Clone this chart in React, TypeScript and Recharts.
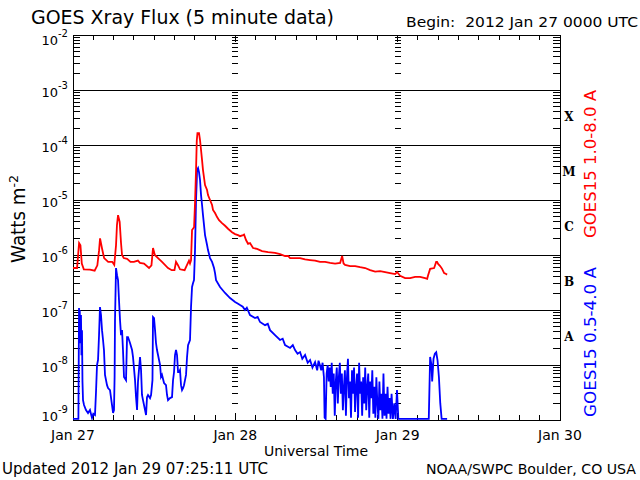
import React from "react";
import {
  LineChart,
  Line,
  XAxis,
  YAxis,
  CartesianGrid,
  ReferenceLine,
  ReferenceArea,
} from "recharts";

// hours since 2012 Jan 27 00:00 UTC
const longHours = [
  0, 0.6, 0.9, 1.1, 1.3, 1.6, 2.5, 3.2, 3.6, 3.85, 4.0, 4.3, 4.6, 5.2, 5.8, 6.1,
  6.36, 6.5, 6.66, 6.9, 7.1, 7.25, 7.5, 8.0, 8.5, 9.0, 9.6, 9.9, 10.5, 11.24,
  11.6, 11.83, 12.1, 12.57, 13.16, 14.05, 14.6, 15.0, 15.23, 15.5, 15.82, 16.5,
  16.86, 17.15, 17.3, 17.45, 17.6, 17.9, 18.04, 18.19, 18.3, 18.4, 18.63, 18.78,
  18.93, 19.08, 19.22, 19.52, 19.82, 19.96, 20.26, 20.56, 20.7, 21.0, 21.3,
  21.59, 22.03, 22.48, 22.92, 23.51, 23.96, 24.4, 24.7, 25.14, 25.29, 25.58,
  25.88, 26.17, 26.62, 27.21, 27.95, 28.84, 29.87, 30.61, 31.35, 31.8, 32.09,
  33.57, 34.31, 35.05, 35.79, 36.53, 37.27, 38.01, 38.75, 39.5, 39.79, 40.0,
  40.22, 40.97, 41.71, 42.45, 43.19, 43.93, 44.67, 45.41, 46.15, 46.88, 47.62,
  47.92, 48.36, 49.1, 49.84, 50.58, 51.32, 52.06, 52.36, 52.5, 52.8, 53.39,
  53.54, 53.69, 53.83, 53.98, 54.28, 54.57, 54.87, 55.17, 55.31,
];
const longFlux = [
  5.8e-7, 5.8e-7, 1.65e-6, 1.5e-6, 7e-7, 5.5e-7, 5.4e-7, 5.2e-7, 6.5e-7, 1.2e-6,
  2.0e-6, 1.3e-6, 8.8e-7, 7.5e-7, 7.5e-7, 6.6e-7, 1.5e-6, 3.5e-6, 5.3e-6,
  4.0e-6, 1.65e-6, 1.0e-6, 8.8e-7, 8.5e-7, 7.5e-7, 7.5e-7, 7.9e-7, 7.2e-7,
  7.0e-7, 5.8e-7, 6.5e-7, 1.34e-6, 1.0e-6, 8.8e-7, 7.5e-7, 5.8e-7, 5.3e-7,
  5.3e-7, 7.5e-7, 6.6e-7, 5.5e-7, 5.3e-7, 6.6e-7, 7.9e-7, 7.0e-7, 8e-7,
  2.85e-6, 3.2e-6, 8.8e-6, 3.5e-5, 1.2e-4, 1.65e-4, 1.65e-4, 1.23e-4, 8.1e-5,
  5.3e-5, 3.5e-5, 1.87e-5, 1.52e-5, 1.23e-5, 1.0e-5, 8.1e-6, 6.6e-6, 5.8e-6,
  4.9e-6, 4.3e-6, 3.8e-6, 3.4e-6, 3.0e-6, 2.6e-6, 2.4e-6, 2.3e-6, 2.2e-6,
  2.3e-6, 2.35e-6, 1.87e-6, 1.6e-6, 1.65e-6, 1.34e-6, 1.29e-6, 1.18e-6,
  1.13e-6, 1.09e-6, 1.04e-6, 9.6e-7, 9.6e-7, 8.8e-7, 8.8e-7, 8.3e-7, 8.1e-7,
  7.9e-7, 7.5e-7, 7.5e-7, 7.2e-7, 7.0e-7, 7.2e-7, 9.6e-7, 7.0e-7, 6.6e-7,
  6.3e-7, 6.3e-7, 6.0e-7, 5.8e-7, 5.3e-7, 5.0e-7, 5.1e-7, 4.9e-7, 4.7e-7,
  4.5e-7, 4.9e-7, 4.2e-7, 3.8e-7, 3.8e-7, 4.0e-7, 4.0e-7, 3.8e-7, 3.7e-7,
  4.3e-7, 5.6e-7, 5.8e-7, 6.6e-7, 7.5e-7, 7.5e-7, 6.9e-7, 6.3e-7, 5.6e-7,
  4.7e-7, 4.5e-7, 4.4e-7,
];

const shortHours = [
  0, 0.6, 0.8, 0.89, 0.95, 1.0, 1.1, 1.18, 1.25, 1.33, 1.4, 1.48, 1.63, 1.92,
  2.22, 2.51, 2.81, 3.0, 3.25, 3.4, 3.55, 3.7, 3.85, 3.99, 4.14, 4.29, 4.44,
  4.58, 4.73, 5.03, 5.18, 5.47, 5.77, 5.92, 6.06, 6.15, 6.21, 6.36, 6.51, 6.66,
  6.8, 6.95, 7.1, 7.25, 7.39, 7.54, 7.84, 7.99, 8.13, 8.28, 8.43, 8.73, 8.87,
  9.17, 9.32, 9.47, 9.61, 9.91, 10.06, 10.2, 10.35, 10.65, 10.8, 10.94, 11.09,
  11.39, 11.54, 11.68, 11.75, 11.83, 11.98, 12.13, 12.27, 12.42, 12.57, 12.87,
  13.01, 13.16, 13.46, 13.75, 13.9, 14.05, 14.34, 14.64, 14.79, 14.94, 15.08,
  15.23, 15.38, 15.53, 15.68, 15.82, 15.97, 16.12, 16.27, 16.41, 16.56, 16.71,
  16.86, 17.01, 17.3, 17.45, 17.6, 17.75, 17.89, 18.04, 18.19, 18.3, 18.34,
  18.49, 18.63, 18.78, 18.93, 19.08, 19.22, 19.37, 19.52, 19.82, 19.96, 20.26,
  20.56, 20.85, 21.0, 21.15, 21.74, 22.48, 23.22, 23.96, 24.4, 24.7, 25.1,
  25.43, 25.7, 26.17, 26.91, 27.3, 27.65, 28.39, 28.8, 29.13, 29.87, 30.61,
  31.0, 31.35, 32.09, 32.5, 32.83, 33.2, 33.57, 33.9, 34.31, 34.7, 35.05, 35.4,
  35.79, 36.1, 36.3, 36.5, 36.7, 36.9, 37.1, 37.2, 37.35, 37.5, 37.65, 37.8,
  37.95, 38.1, 38.25, 38.4, 38.55, 38.7, 38.85, 39.0, 39.15, 39.3, 39.45, 39.6,
  39.75, 39.9, 40.05, 40.2, 40.35, 40.5, 40.65, 40.8, 40.95, 41.1, 41.25, 41.4,
  41.55, 41.7, 41.85, 42.0, 42.15, 42.3, 42.45, 42.6, 42.75, 42.9, 43.05, 43.2,
  43.35, 43.5, 43.65, 43.8, 43.95, 44.1, 44.25, 44.4, 44.55, 44.7, 44.85, 45.0,
  45.15, 45.3, 45.45, 45.6, 45.75, 45.9, 46.05, 46.2, 46.35, 46.5, 46.65, 46.8,
  46.95, 47.1, 47.3, 47.5, 47.7, 47.9, 48.1, 52.6, 52.8, 53.0, 53.1, 53.3, 53.5,
  53.7, 53.9, 54.1, 54.3, 54.5, 55.31,
];
const shortFlux = [
  1.05e-9, 1.05e-9, 1.05e-9, 1.09e-7, 4e-8, 1.0e-7, 2.5e-8, 8.1e-8, 1.5e-8,
  4.3e-8, 5e-9, 2.3e-9, 1.87e-9, 1.52e-9, 1.34e-9, 1.52e-9, 1.09e-9, 1.3e-9,
  1.23e-9, 3.2e-9, 1.0e-8, 1.23e-8, 3.5e-8, 1.13e-7, 8.1e-8, 4.3e-8, 2.85e-8,
  1.87e-8, 6.6e-9, 4.3e-9, 3.8e-9, 3.5e-9, 1.87e-9, 1.34e-9, 1.52e-9, 6.05e-9,
  6.6e-8, 5.8e-7, 4.3e-7, 3.5e-7, 1.52e-7, 6.6e-8, 3.5e-8, 4.3e-8, 1.87e-8,
  6.05e-9, 5.3e-9, 3.2e-8, 3.2e-8, 2.85e-8, 2.51e-8, 1.87e-8, 1.4e-8, 5.3e-9,
  2.6e-9, 1.52e-9, 5e-9, 1.4e-8, 8.1e-9, 2.85e-9, 2.3e-9, 1.52e-9, 1.23e-9,
  2.6e-9, 2.85e-9, 2.5e-9, 2.85e-9, 4.3e-9, 5.3e-9, 7.45e-8, 7.14e-8, 4.3e-8,
  2.51e-8, 1.87e-8, 1.52e-8, 1.0e-8, 6.05e-9, 6.6e-9, 4.7e-9, 4.3e-9, 2.85e-9,
  2.3e-9, 2.5e-9, 2.6e-9, 5.3e-9, 7.45e-9, 1.52e-8, 1.87e-8, 1.52e-8, 7.45e-9,
  7.45e-9, 8.1e-9, 4.3e-9, 3.5e-9, 3.8e-9, 4.3e-9, 5.3e-9, 6.6e-9, 1.4e-8,
  2.3e-8, 2.85e-8, 1.13e-7, 2.62e-7, 3.09e-7, 3.5e-7, 1.23e-6, 1.0e-5, 2.31e-5,
  3.5e-5, 3.8e-5, 3.2e-5, 2.31e-5, 1.23e-5, 8.1e-6, 5.3e-6, 3.5e-6, 2.3e-6,
  1.52e-6, 1.23e-6, 8.8e-7, 7.5e-7, 5.8e-7, 4.7e-7, 3.5e-7, 2.62e-7, 2.04e-7,
  1.65e-7, 1.4e-7, 1.3e-7, 1.23e-7, 1.15e-7, 1.0e-7, 1.1e-7, 8.1e-8, 7.14e-8,
  7.5e-8, 6.05e-8, 5.3e-8, 5.6e-8, 4.3e-8, 3.5e-8, 2.85e-8, 3.0e-8, 2.3e-8,
  2.04e-8, 2.3e-8, 1.87e-8, 1.6e-8, 1.72e-8, 1.3e-8, 1.52e-8, 1.1e-8, 1.23e-8,
  9e-9, 1.13e-8, 8e-9, 1.2e-8, 1.0e-8, 8e-9, 1.1e-8, 6e-9, 1.1e-9, 1.05e-9,
  7e-9, 1.0e-8, 5e-9, 9e-9, 4e-9, 1.1e-8, 3e-9, 7e-9, 1.2e-9, 5e-9, 9e-9, 2e-9,
  6e-9, 1.1e-8, 3e-9, 7e-9, 1.5e-9, 4e-9, 8e-9, 1.2e-9, 6e-9, 1.3e-8, 2.5e-9,
  5e-9, 1.1e-9, 8e-9, 3e-9, 9e-9, 1.4e-9, 4e-9, 7e-9, 1.1e-9, 1.1e-8, 3e-9,
  5e-9, 1.2e-9, 6e-9, 2e-9, 9e-9, 1.5e-9, 4e-9, 7e-9, 1.1e-9, 5e-9, 2.5e-9,
  8e-9, 1.3e-9, 4e-9, 1.1e-9, 6e-9, 2e-9, 1.05e-9, 5e-9, 1.5e-9, 3e-9, 1.05e-9,
  7e-9, 1.2e-9, 3e-9, 1.05e-9, 4e-9, 1.3e-9, 2.5e-9, 1.05e-9, 3e-9, 1.05e-9,
  2e-9, 1.05e-9, 3.5e-9, 1.05e-9, 1.05e-9, 1.4e-8, 1.0e-8, 5e-9, 1.3e-8, 1.6e-8,
  1.7e-8, 1.2e-8, 6e-9, 2e-9, 1.05e-9, 1.05e-9,
];

const dayTicks = [0, 24, 48, 72];
const dayLabels = ["Jan 27", "Jan 28", "Jan 29", "Jan 30"];
const hourTicks = [3, 6, 9, 12, 15, 18, 21, 27, 30, 33, 36, 39, 42, 45, 51, 54, 57, 60, 63, 66, 69];
const decadeTicks = [1e-9, 1e-8, 1e-7, 1e-6, 1e-5, 1e-4, 1e-3, 1e-2];
const decadeExps = [-9, -8, -7, -6, -5, -4, -3, -2];
const minorSteps = [2, 3, 4, 5, 6, 7, 8, 9];
const classTicks = [3.16e-8, 3.16e-7, 3.16e-6, 3.16e-5, 3.16e-4];
const classLabels = ["A", "B", "C", "M", "X"];

const longData = longHours.map((h, i) => ({ h, f: longFlux[i] }));
const shortData = shortHours.map((h, i) => ({ h, f: shortFlux[i] }));
const minorTicks = decadeTicks.slice(0, -1).flatMap((d) => minorSteps.map((m) => m * d));

const FONT = "'DejaVu Sans', sans-serif";
const T0 = dayTicks[0];
const T1 = dayTicks[dayTicks.length - 1];

function MinorTickShape(props: any) {
  const { x1, x2, y1 } = props;
  const w = x2 - x1;
  const mids = dayTicks.slice(1, -1).map((d) => x1 + (w * (d - T0)) / (T1 - T0));
  return (
    <g stroke="#000" strokeWidth={1} shapeRendering="crispEdges">
      <line x1={x1} x2={x1 + 7} y1={y1} y2={y1} />
      <line x1={x2 - 7} x2={x2} y1={y1} y2={y1} />
      {mids.map((m, i) => (
        <line key={i} x1={m - 3} x2={m + 3} y1={y1} y2={y1} />
      ))}
    </g>
  );
}

function HourTickShape(len: number) {
  return (props: any) => {
    const { x1, y1, y2 } = props;
    const top = Math.min(y1, y2);
    const bot = Math.max(y1, y2);
    return (
      <g stroke="#000" strokeWidth={1} shapeRendering="crispEdges">
        <line x1={x1} x2={x1} y1={top} y2={top + len} />
        <line x1={x1} x2={x1} y1={bot - len} y2={bot} />
      </g>
    );
  };
}

function DecadeTick(props: any) {
  const { x, y, payload } = props;
  const i = decadeTicks.findIndex((d) => Math.abs(Math.log10(d) - Math.log10(payload.value)) < 0.01);
  // the end labels are nudged inside the frame, as in the original plot
  const shift = i === decadeTicks.length - 1 ? 10 : i === 0 ? 1 : 7;
  return (
    <text x={x} y={y + shift} textAnchor="end" fontFamily={FONT} fontSize={13} fill="#000">
      10
      <tspan dy={-8} fontSize={10}>
        {decadeExps[i]}
      </tspan>
    </text>
  );
}

function ClassTick(props: any) {
  const { x, y, payload } = props;
  const i = classTicks.findIndex((d) => Math.abs(Math.log10(d) - Math.log10(payload.value)) < 0.01);
  return (
    <text
      x={x}
      y={y + 3}
      textAnchor="middle"
      fontFamily="'DejaVu Serif', serif"
      fontWeight="bold"
      fontSize={12}
      fill="#000"
    >
      {classLabels[i]}
    </text>
  );
}

function DayTick(props: any) {
  const { x, y, payload } = props;
  const i = dayTicks.indexOf(payload.value);
  return (
    <text x={x} y={y + 20} textAnchor="middle" fontFamily={FONT} fontSize={14} fill="#000">
      {dayLabels[i]}
    </text>
  );
}

export default function App() {
  return (
    <div style={{ position: "absolute", left: 0, top: 0, width: 640, height: 480, background: "#fff" }}>
      <LineChart width={640} height={480} margin={{ top: 35, right: 0, bottom: 0, left: 0 }}>
        <CartesianGrid vertical={false} stroke="#000" strokeWidth={1} shapeRendering="crispEdges" />
        <XAxis
          type="number"
          dataKey="h"
          domain={[T0, T1]}
          ticks={dayTicks}
          height={60}
          axisLine={false}
          tickLine={false}
          tickSize={0}
          tickMargin={0}
          tick={<DayTick />}
          allowDataOverflow
        />
        <YAxis
          scale="log"
          domain={[1e-9, 1e-2]}
          ticks={decadeTicks}
          width={73}
          axisLine={false}
          tickLine={false}
          tickSize={0}
          tickMargin={5}
          tick={<DecadeTick />}
          allowDataOverflow
        />
        <YAxis
          yAxisId="cls"
          orientation="right"
          scale="log"
          domain={[1e-9, 1e-2]}
          ticks={classTicks}
          width={80}
          axisLine={false}
          tickLine={false}
          tickSize={0}
          tickMargin={9}
          tick={<ClassTick />}
          allowDataOverflow
        />
        {minorTicks.map((v) => (
          <ReferenceLine key={"m" + v} y={v} shape={MinorTickShape} />
        ))}
        {hourTicks.map((h) => (
          <ReferenceLine key={"h" + h} x={h} shape={HourTickShape(5)} />
        ))}
        {dayTicks.slice(1, -1).map((h) => (
          <ReferenceLine key={"d" + h} x={h} shape={HourTickShape(7)} />
        ))}
        <Line
          data={shortData}
          dataKey="f"
          type="linear"
          stroke="#0000ff"
          strokeWidth={1.8}
          dot={false}
          isAnimationActive={false}
        />
        <Line
          data={longData}
          dataKey="f"
          type="linear"
          stroke="#ff0000"
          strokeWidth={1.8}
          dot={false}
          isAnimationActive={false}
        />
        <ReferenceArea
          x1={T0}
          x2={T1}
          y1={1e-9}
          y2={1e-2}
          fill="none"
          fillOpacity={0}
          stroke="#000"
          strokeWidth={1}
          shapeRendering="crispEdges"
        />
      </LineChart>
      <svg
        width={640}
        height={480}
        style={{ position: "absolute", left: 0, top: 0, pointerEvents: "none" }}
        fontFamily={FONT}
      >
        <text x={31} y={24} fontSize={20} textLength={303} lengthAdjust="spacingAndGlyphs">
          GOES Xray Flux (5 minute data)
        </text>
        <text
          x={406}
          y={27}
          fontSize={14}
          textLength={232}
          lengthAdjust="spacingAndGlyphs"
          style={{ whiteSpace: "pre" }}
        >
          {"Begin:  2012 Jan 27 0000 UTC"}
        </text>
        <text
          transform="translate(25,219) rotate(-90)"
          textAnchor="middle"
          fontSize={19}
          textLength={88}
          lengthAdjust="spacingAndGlyphs"
        >
          Watts m<tspan dy={-7} fontSize={13}>-2</tspan>
        </text>
        <text
          transform="translate(596,164) rotate(-90)"
          textAnchor="middle"
          fontSize={15}
          fill="#ff0000"
          textLength={148}
          lengthAdjust="spacingAndGlyphs"
        >
          GOES15 1.0-8.0 A
        </text>
        <text
          transform="translate(596,342) rotate(-90)"
          textAnchor="middle"
          fontSize={15}
          fill="#0000ff"
          textLength={150}
          lengthAdjust="spacingAndGlyphs"
        >
          GOES15 0.5-4.0 A
        </text>
        <text x={316} y={456} fontSize={14} textAnchor="middle">
          Universal Time
        </text>
        <text x={2} y={474} fontSize={15} textLength={266} lengthAdjust="spacingAndGlyphs">
          Updated 2012 Jan 29 07:25:11 UTC
        </text>
        <text x={636} y={474} fontSize={14} textAnchor="end" textLength={210} lengthAdjust="spacingAndGlyphs">
          NOAA/SWPC Boulder, CO USA
        </text>
      </svg>
    </div>
  );
}
